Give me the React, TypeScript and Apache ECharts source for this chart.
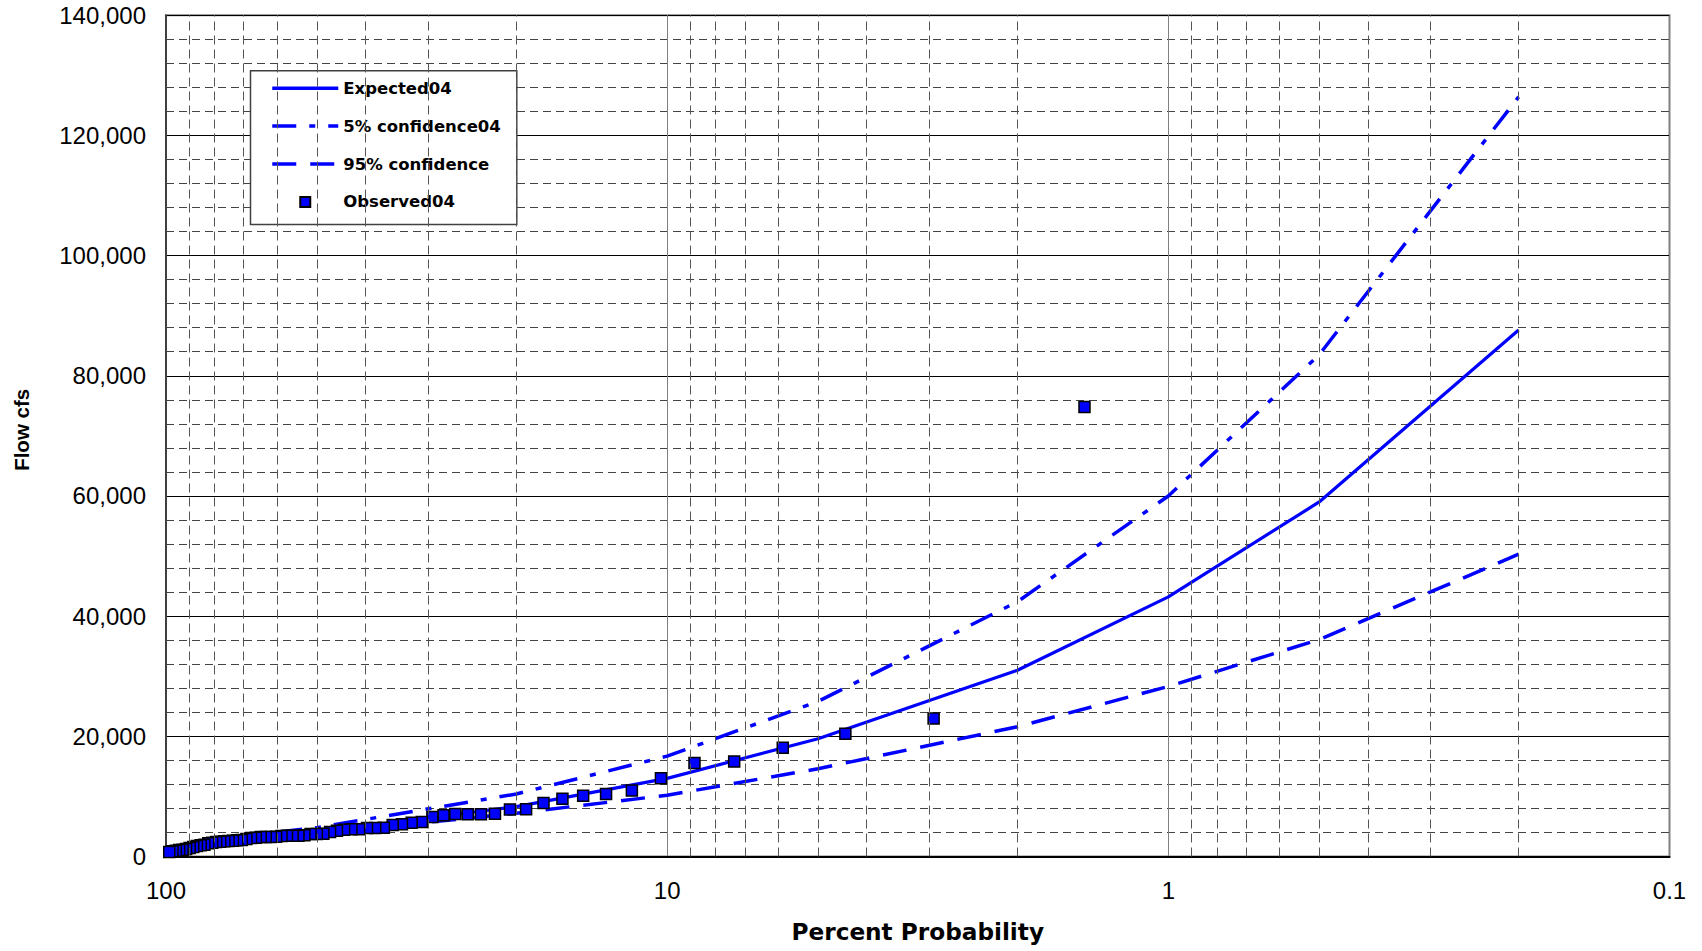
import React, { useEffect, useRef } from 'react';
import * as echarts from 'echarts';

// Probabilities (percent exceedance) at which the frequency curves are plotted
const curveProb = [99, 95, 90, 80, 50, 20, 10, 5, 2, 1, 0.5, 0.2];
const expected04 = [700, 1100, 1500, 2200, 4000, 8300, 13000, 19600, 31000, 43200, 59000, 87600];
const conf5_04 = [1000, 1600, 2100, 2900, 4800, 10400, 16700, 25800, 42400, 60000, 83500, 126400];
const conf95 = [500, 800, 1100, 1700, 3800, 7200, 10200, 14600, 21600, 28300, 36100, 50300];

// Observed annual peaks (plotting position in percent, flow in cfs)
const obsProb = [
  1.47, 2.94, 4.41, 5.88, 7.35, 8.82, 10.29, 11.76, 13.24, 14.71,
  16.18, 17.65, 19.12, 20.59, 22.06, 23.53, 25.0, 26.47, 27.94, 29.41,
  30.88, 32.35, 33.82, 35.29, 36.76, 38.24, 39.71, 41.18, 42.65, 44.12,
  45.59, 47.06, 48.53, 50.0, 51.47, 52.94, 54.41, 55.88, 57.35, 58.82,
  60.29, 61.76, 63.24, 64.71, 66.18, 67.65, 69.12, 70.59, 72.06, 73.53,
  75.0, 76.47, 77.94, 79.41, 80.88, 82.35, 83.82, 85.29, 86.76, 88.24,
  89.71, 91.18, 92.65, 94.12, 95.59, 97.06, 98.53,
];
const obsFlow = [
  74800, 22950, 20440, 18110, 15800, 15550, 13010, 10980, 10400, 10120,
  9620, 8900, 7850, 7830, 7100, 7050, 7050, 7070, 6850, 6570,
  5740, 5620, 5360, 5240, 4790, 4740, 4740, 4520, 4520, 4460,
  4290, 4080, 3790, 3740, 3740, 3530, 3460, 3460, 3460, 3410,
  3300, 3240, 3240, 3240, 3130, 3070, 2910, 2740, 2690, 2630,
  2580, 2520, 2460, 2410, 2300, 2190, 1970, 1860, 1750, 1580,
  1410, 1250, 1140, 1080, 970, 860, 750,
];

// Minor vertical grid values on the probability axis
const xMinorGrid = [
  90, 80, 70, 60, 50, 40, 30, 20,
  9, 8, 7, 6, 5, 4, 3, 2,
  0.9, 0.8, 0.7, 0.6, 0.5, 0.4, 0.3, 0.2,
];

const tickFont = "'Liberation Sans', Arial, sans-serif";
const boldFont = "'DejaVu Sans', sans-serif";

const upperDash = [24, 13, 6, 13];
const lowerDash = [24, 14];

export default function App() {
  const ref = useRef<HTMLDivElement>(null);

  useEffect(() => {
    const chart = echarts.init(ref.current!, null, { renderer: 'svg' });
    const pair = (xs: number[], ys: number[]) => xs.map((x, i) => [x, ys[i]]);
    const blue = '#0000ff';
    const hiddenSymbol = { color: 'rgba(0,0,0,0)', borderWidth: 0 };

    chart.setOption({
      animation: false,
      backgroundColor: '#ffffff',
      grid: {
        left: 166,
        right: 32.5,
        top: 15.2,
        bottom: 94.5,
        show: true,
        borderColor: '#808080',
        borderWidth: 2,
        backgroundColor: 'transparent',
      },
      legend: {
        data: [
          { name: 'Expected04', itemStyle: hiddenSymbol, lineStyle: { width: 3.5, type: 'solid' } },
          { name: '5% confidence04', itemStyle: hiddenSymbol, lineStyle: { width: 3.5, type: upperDash } },
          { name: '95% confidence', itemStyle: hiddenSymbol, lineStyle: { width: 3.5, type: lowerDash } },
          { name: 'Observed04', icon: 'path://M0,0h10v10h-10z' },
        ],
        orient: 'vertical',
        left: 250.5,
        top: 70.7,
        itemWidth: 66,
        itemHeight: 10,
        itemGap: 20.9,
        symbolKeepAspect: true,
        padding: [9, 16, 14, 20],
        backgroundColor: '#ffffff',
        borderColor: '#404040',
        borderWidth: 1.5,
        selectedMode: false,
        textStyle: { fontFamily: boldFont, fontWeight: 'bold', fontSize: 16.5, color: '#000' },
      },
      xAxis: {
        type: 'log',
        logBase: 10,
        min: 0.1,
        max: 100,
        inverse: true,
        name: 'Percent Probability',
        nameLocation: 'middle',
        nameGap: 63,
        nameTextStyle: { fontFamily: boldFont, fontWeight: 'bold', fontSize: 23.2, color: '#000' },
        axisLine: { show: true, onZero: false, lineStyle: { color: '#000', width: 2 } },
        axisTick: { show: false },
        axisLabel: {
          margin: 22,
          fontSize: 24,
          fontFamily: tickFont,
          color: '#000',
          formatter: (v: number) => String(Number(v.toPrecision(6))),
        },
        splitLine: { show: true, lineStyle: { color: '#808080', width: 1 } },
      },
      yAxis: {
        type: 'value',
        min: 0,
        max: 140000,
        interval: 20000,
        name: 'Flow cfs',
        nameLocation: 'middle',
        nameGap: 134,
        nameTextStyle: { fontFamily: tickFont, fontWeight: 'bold', fontSize: 20.5, color: '#000', padding: [0, 0, 0, 12] },
        axisLine: { show: true, lineStyle: { color: '#404040', width: 2 } },
        axisTick: { show: false },
        axisLabel: {
          margin: 20,
          fontSize: 24,
          fontFamily: tickFont,
          color: '#000',
          formatter: (v: number) => v.toLocaleString('en-US'),
        },
        splitLine: { show: true, lineStyle: { color: '#000', width: 1 } },
        minorTick: { show: false, splitNumber: 5 },
        minorSplitLine: { show: true, lineStyle: { color: '#444', width: 1, type: [8, 5] } },
      },
      series: [
        {
          name: 'minorGrid',
          type: 'line',
          data: [],
          z: 1,
          silent: true,
          markLine: {
            silent: true,
            symbol: ['none', 'none'],
            label: { show: false },
            lineStyle: { color: '#555', width: 1, type: [9, 5] },
            emphasis: { disabled: true },
            data: xMinorGrid.map((v) => ({ xAxis: v })),
          },
        },
        {
          name: 'Expected04',
          type: 'line',
          data: pair(curveProb, expected04),
          symbol: 'none',
          z: 3,
          lineStyle: { color: blue, width: 3.2 },
          itemStyle: { color: blue },
        },
        {
          name: '5% confidence04',
          type: 'line',
          data: pair(curveProb, conf5_04),
          symbol: 'none',
          z: 3,
          lineStyle: { color: blue, width: 3.5, type: upperDash },
          itemStyle: { color: blue },
        },
        {
          name: '95% confidence',
          type: 'line',
          data: pair(curveProb, conf95),
          symbol: 'none',
          z: 3,
          lineStyle: { color: blue, width: 3.5, type: lowerDash },
          itemStyle: { color: blue },
        },
        {
          name: 'Observed04',
          type: 'scatter',
          data: pair(obsProb, obsFlow),
          symbol: 'rect',
          symbolSize: 11,
          z: 4,
          itemStyle: { color: blue, borderColor: '#000', borderWidth: 1.5, opacity: 1 },
        },
      ],
    });

    return () => chart.dispose();
  }, []);

  return (
    <div
      ref={ref}
      style={{ position: 'fixed', left: 0, top: 0, width: 1702, height: 951, background: '#fff' }}
    />
  );
}
